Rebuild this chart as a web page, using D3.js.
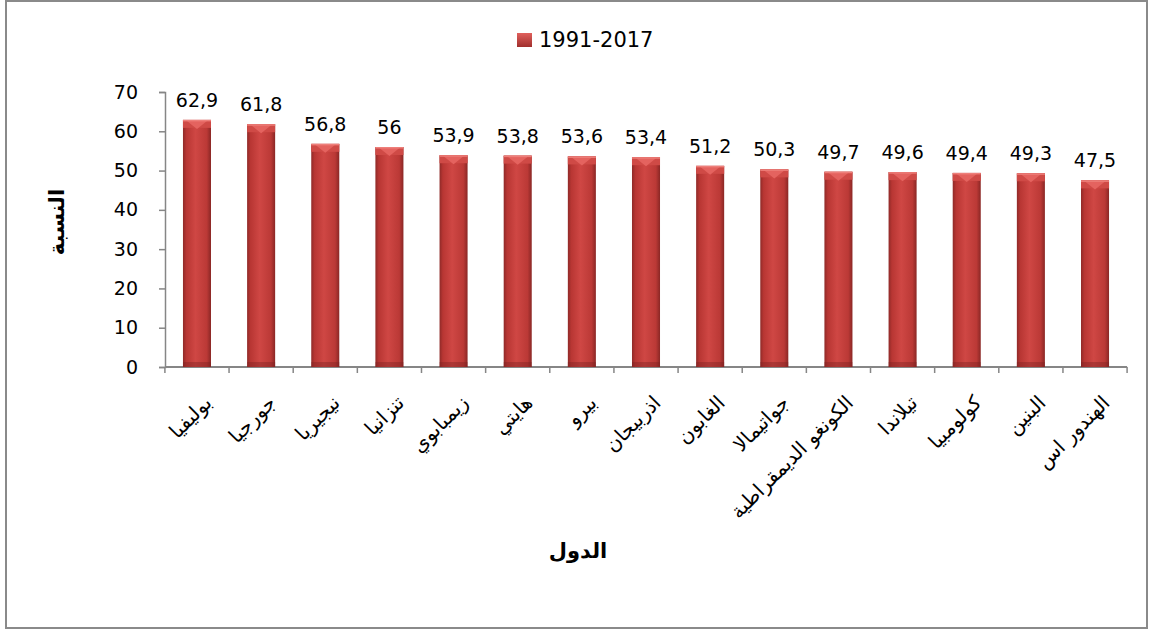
<!DOCTYPE html>
<html>
<head>
<meta charset="utf-8">
<script src="https://cdn.jsdelivr.net/npm/d3@7"></script>
<style>
  body { margin: 0; background: #fff; font-family: "DejaVu Sans", sans-serif; }
</style>
</head>
<body>
<svg id="chart" width="1149" height="631" style="position:absolute;left:0;top:0"></svg>
<script>
// Chart data
const countries = ['بوليفيا', 'جورجيا', 'نيجيريا', 'تنزانيا', 'زيمبابوي', 'هايتي', 'بيرو', 'اذربيجان',
  'الغابون', 'جواتيمالا', 'الكونغو الديمقراطية', 'تيلاندا', 'كولومبيا', 'البنين', 'الهندور اس'];
const values = [62.9, 61.8, 56.8, 56, 53.9, 53.8, 53.6, 53.4, 51.2, 50.3, 49.7, 49.6, 49.4, 49.3, 47.5];
const valueLabels = ['62,9', '61,8', '56,8', '56', '53,9', '53,8', '53,6', '53,4', '51,2', '50,3', '49,7', '49,6', '49,4', '49,3', '47,5'];
const seriesName = '1991-2017';
const yTicks = [0, 10, 20, 30, 40, 50, 60, 70];

const svg = d3.select('#chart');

// scales
const x = d3.scaleBand()
  .domain(countries)
  .range([165, 1127])
  .paddingInner(0.563)
  .paddingOuter(0.28);

const y = d3.scaleLinear()
  .domain([0, 70])
  .range([367, 92]);

// category labels, rotated -45
svg.selectAll('.xlabel')
  .data(countries)
  .enter().append('text')
  .attr('class', 'xlabel')
  .attr('transform', d => `translate(${x(d) + x.bandwidth() / 2 + 16},${y(0) + 37}) rotate(-45)`)
  .attr('text-anchor', 'end')
  .attr('font-size', 20)
  .text(d => d);

// y title
svg.append('text')
  .attr('transform', 'translate(64,222) rotate(-90)')
  .attr('text-anchor', 'middle')
  .attr('font-size', 21)
  .attr('font-weight', 'bold')
  .text('النسبة');

// gradients for the bars (cylinder look)
const defs = svg.append('defs');
const grad = defs.append('linearGradient').attr('id', 'barGrad')
  .attr('x1', '0%').attr('x2', '100%').attr('y1', '0%').attr('y2', '0%');
grad.append('stop').attr('offset', '0%').attr('stop-color', '#8f2a28');
grad.append('stop').attr('offset', '12%').attr('stop-color', '#b83633');
grad.append('stop').attr('offset', '45%').attr('stop-color', '#cf4744');
grad.append('stop').attr('offset', '85%').attr('stop-color', '#bb3936');
grad.append('stop').attr('offset', '100%').attr('stop-color', '#8a2725');

const legGrad = defs.append('linearGradient').attr('id', 'legGrad')
  .attr('x1', '0%').attr('x2', '0%').attr('y1', '0%').attr('y2', '100%');
legGrad.append('stop').attr('offset', '0%').attr('stop-color', '#e0605c');
legGrad.append('stop').attr('offset', '100%').attr('stop-color', '#a02f2d');

// outer border
svg.append('rect')
  .attr('x', 6).attr('y', 1)
  .attr('width', 1141).attr('height', 627)
  .attr('fill', 'none')
  .attr('stroke', '#8a8a8a')
  .attr('stroke-width', 2);

// y axis
const yAxis = svg.append('g')
  .attr('transform', 'translate(165,0)')
  .call(d3.axisLeft(y).tickValues(yTicks).tickSize(6).tickPadding(21).tickFormat(d3.format('d')));
yAxis.select('.domain').attr('stroke', '#868686').attr('stroke-width', 1.5);
yAxis.selectAll('.tick line').attr('stroke', '#868686').attr('stroke-width', 1.5);
yAxis.selectAll('.tick text')
  .attr('font-size', 19)
  .attr('font-family', '"DejaVu Sans", sans-serif')
  .attr('fill', '#000');

// x axis line + boundary ticks
const gap = x.step() - x.bandwidth();
const boundaries = countries.map(c => x(c) - gap / 2);
boundaries.push(x(countries[countries.length - 1]) + x.bandwidth() + gap / 2);

svg.append('line')
  .attr('x1', 165).attr('x2', boundaries[boundaries.length - 1])
  .attr('y1', y(0)).attr('y2', y(0))
  .attr('stroke', '#868686').attr('stroke-width', 2);

svg.selectAll('.xtick')
  .data(boundaries)
  .enter().append('line')
  .attr('class', 'xtick')
  .attr('x1', d => d).attr('x2', d => d)
  .attr('y1', y(0)).attr('y2', y(0) + 6)
  .attr('stroke', '#868686').attr('stroke-width', 1.5);

// bars
const data = countries.map((c, i) => ({ country: c, value: values[i], label: valueLabels[i] }));

const bars = svg.selectAll('.bar')
  .data(data)
  .enter().append('g')
  .attr('class', 'bar');

bars.append('rect')
  .attr('x', d => x(d.country))
  .attr('y', d => y(d.value))
  .attr('width', x.bandwidth())
  .attr('height', d => y(0) - y(d.value))
  .attr('fill', 'url(#barGrad)');

// bottom shade
bars.append('rect')
  .attr('x', d => x(d.country))
  .attr('y', y(0) - 5)
  .attr('width', x.bandwidth())
  .attr('height', 5)
  .attr('fill', '#7a2120')
  .attr('opacity', 0.4);

// top bevel
bars.append('rect')
  .attr('x', d => x(d.country))
  .attr('y', d => y(d.value))
  .attr('width', x.bandwidth())
  .attr('height', 8)
  .attr('fill', '#cf4a46');
bars.append('path')
  .attr('d', d => {
    const x0 = x(d.country), x1 = x0 + x.bandwidth(), t = y(d.value);
    const m = (x0 + x1) / 2;
    return `M${x0 + 4},${t + 1}L${x1 - 4},${t + 1}L${m},${t + 9}Z`;
  })
  .attr('fill', '#e4635f');
bars.append('rect')
  .attr('x', d => x(d.country))
  .attr('y', d => y(d.value))
  .attr('width', x.bandwidth())
  .attr('height', 1.5)
  .attr('fill', '#ee7f7a');

// value labels
bars.append('text')
  .attr('x', d => x(d.country) + x.bandwidth() / 2)
  .attr('y', d => y(d.value) - 13)
  .attr('text-anchor', 'middle')
  .attr('font-size', 19)
  .text(d => d.label);

// x title
svg.append('text')
  .attr('x', 578)
  .attr('y', 558)
  .attr('text-anchor', 'middle')
  .attr('font-size', 21)
  .attr('font-weight', 'bold')
  .text('الدول');

// legend
const legend = svg.append('g').attr('transform', 'translate(517,33)');
legend.append('rect')
  .attr('width', 15).attr('height', 14)
  .attr('fill', 'url(#legGrad)');
legend.append('text')
  .attr('x', 22)
  .attr('y', 14)
  .attr('font-size', 21)
  .text(seriesName);
</script>
</body>
</html>
